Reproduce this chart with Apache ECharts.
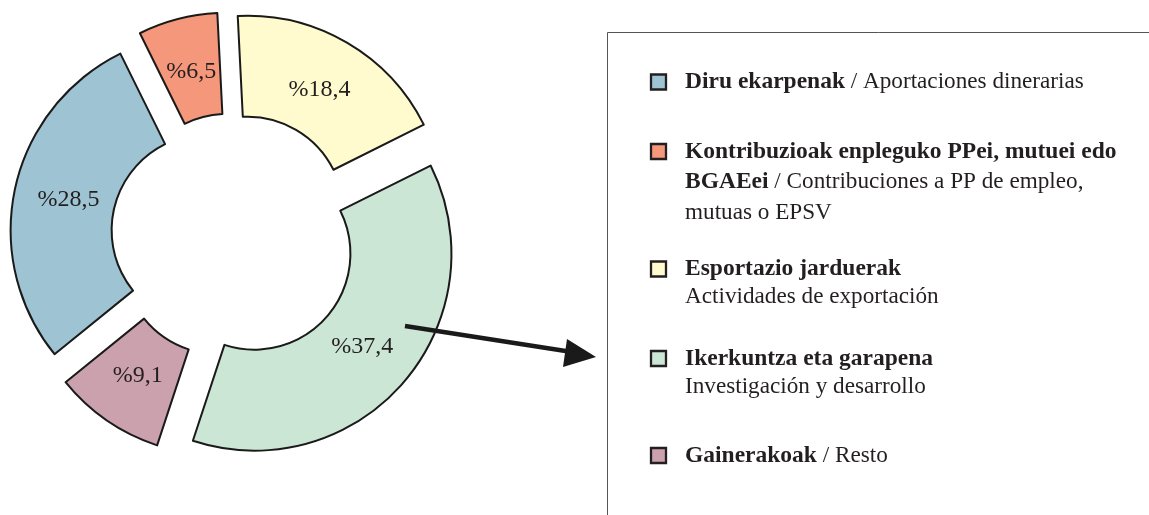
<!DOCTYPE html>
<html>
<head>
<meta charset="utf-8">
<script src="https://cdn.jsdelivr.net/npm/echarts@6/dist/echarts.min.js"></script>
<style>html,body{margin:0;padding:0;background:#fff;}#c{width:1149px;height:515px;}</style>
</head>
<body>
<div id="c"></div>
<script>
// Data
var categories = ['Diru ekarpenak', 'Kontribuzioak enpleguko PPei, mutuei edo BGAEei', 'Esportazio jarduerak', 'Ikerkuntza eta garapena', 'Gainerakoak'];
var values = [28.5, 6.5, 18.4, 37.4, 9.1];
var colors = ['#9EC3D3', '#F5977A', '#FFFBCE', '#CBE6D4', '#CBA1AD'];
// legend texts: lines of [bold, regular] parts
var legendLines = [
  [['Diru ekarpenak', ' / Aportaciones dinerarias']],
  [['Kontribuzioak enpleguko PPei, mutuei edo', ''], ['BGAEei', ' / Contribuciones a PP de empleo,'], ['', 'mutuas o EPSV']],
  [['Esportazio jarduerak', ''], ['', 'Actividades de exportación']],
  [['Ikerkuntza eta garapena', ''], ['', 'Investigación y desarrollo']],
  [['Gainerakoak', ' / Resto']]
];

// layout / style (not data)
var legendCenters = [82, 151.5, 269, 358.5, 455.5];
var legendLineHeights = [28, 30.5, 28, 28, 28];
var FONT = 'Liberation Serif, Times New Roman, serif';
var TXT = '#231F20';
var FS = 23.5;

var graphics = [];
graphics.push({
  type: 'rect', shape: {x: 607.5, y: 32.5, width: 700, height: 600},
  style: {fill: 'none', stroke: '#555', lineWidth: 1}, silent: true
});
for (var i = 0; i < categories.length; i++) {
  var cy = legendCenters[i];
  var LH = legendLineHeights[i];
  graphics.push({
    type: 'rect', shape: {x: 651, y: cy - 7.5, width: 15, height: 15},
    style: {fill: colors[i], stroke: TXT, lineWidth: 2.3}, silent: true
  });
  var parts = legendLines[i].map(function (ln) {
    var s = '';
    if (ln[0]) s += '{b|' + ln[0] + '}';
    if (ln[1]) s += '{r|' + ln[1] + '}';
    return s;
  });
  graphics.push({
    type: 'text', x: 685, y: cy + 8.3 - LH / 2 - 8.3, silent: true,
    style: {
      text: parts.join('\n'),
      fill: TXT, font: FS + 'px ' + FONT, lineHeight: LH, verticalAlign: 'top',
      rich: {
        b: {fontFamily: FONT, fontWeight: 'bold', fontSize: FS, lineHeight: LH, fill: TXT},
        r: {fontFamily: FONT, fontSize: FS - 0.3, lineHeight: LH, fill: TXT}
      }
    }
  });
}
// arrow annotation (drawn above the pie)
graphics.push({
  type: 'line', z: 100, shape: {x1: 405, y1: 326, x2: 572, y2: 352},
  style: {stroke: '#1a1a1a', lineWidth: 4.5}, silent: true
});
graphics.push({
  type: 'polygon', z: 100, shape: {points: [[596, 357], [567, 339], [563, 367]]},
  style: {fill: '#1a1a1a'}, silent: true
});

var pieData = categories.map(function (c, i) {
  return {name: c, value: values[i], selected: true, itemStyle: {color: colors[i]}};
});
var common = {
  type: 'pie',
  center: [234, 236],
  startAngle: 219,
  clockwise: true,
  selectedMode: 'multiple',
  selectedOffset: 27,
  silent: true,
  emphasis: {disabled: true, scale: false},
  labelLine: {show: false}
};

var chart = echarts.init(document.getElementById('c'), null, {renderer: 'canvas'});
chart.setOption({
  animation: false,
  graphic: graphics,
  series: [
    Object.assign({}, common, {
      radius: [96, 197],
      itemStyle: {borderColor: '#1a1a1a', borderWidth: 2},
      label: {show: false},
      data: pieData
    }),
    // label carrier: same slices, transparent, labels slightly nearer the hole
    Object.assign({}, common, {
      radius: [96, 183],
      z: 3,
      itemStyle: {color: 'rgba(0,0,0,0)', borderWidth: 0},
      label: {
        position: 'inside', fontFamily: FONT, fontSize: 24, color: TXT,
        formatter: function (p) { return '%' + p.value.toFixed(1).replace('.', ','); }
      },
      data: categories.map(function (c, i) {
        return {name: c, value: values[i], selected: true, itemStyle: {color: 'rgba(0,0,0,0)'}};
      })
    })
  ]
});
</script>
</body>
</html>
